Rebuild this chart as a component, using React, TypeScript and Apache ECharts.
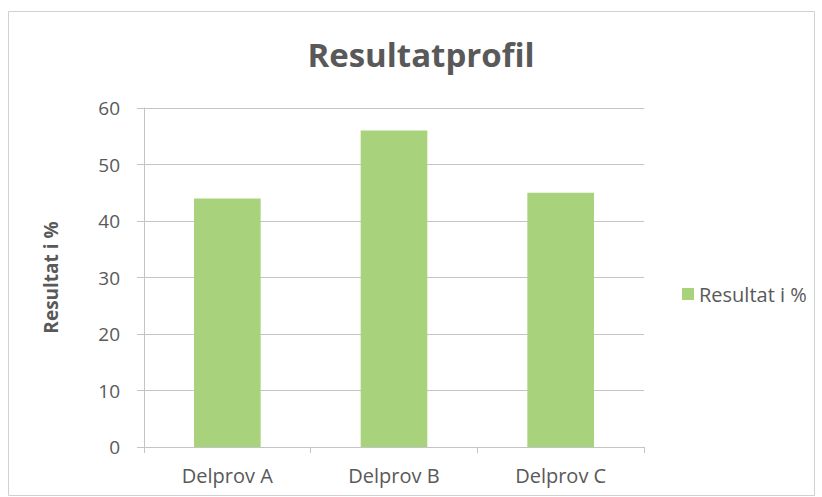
import React, { useEffect, useRef } from "react";
import * as echarts from "echarts";

const categories = ["Delprov A", "Delprov B", "Delprov C"];
const seriesName = "Resultat i %";
const values = [44, 56, 45];
const yTicks = { min: 0, max: 60, interval: 10 };

export default function App() {
  const ref = useRef<HTMLDivElement>(null);
  useEffect(() => {
    if (!ref.current) return;
    const chart = echarts.init(ref.current, null, { renderer: "svg" });
    const font = "'Open Sans', sans-serif";
    const textColor = "#595959";
    const lineColor = "#c4c4c4";
    chart.setOption({
      animation: false,
      backgroundColor: "#ffffff",
      textStyle: { fontFamily: font },
      title: {
        text: "Resultatprofil",
        left: 416,
        top: 33,
        textAlign: "center",
        textStyle: { fontFamily: font, fontSize: 33, fontWeight: "bold", color: textColor },
      },
      graphic: [
        {
          type: "rect",
          shape: { x: 8.5, y: 11.5, width: 806, height: 484 },
          style: { fill: "none", stroke: "#d0d0d0", lineWidth: 1 },
          silent: true,
        },
      ],
      legend: {
        orient: "vertical",
        left: 677,
        top: 279,
        icon: "rect",
        itemWidth: 12,
        itemHeight: 12,
        itemGap: 8,
        textStyle: { fontFamily: font, fontSize: 20, color: textColor },
        data: [seriesName],
      },
      grid: { left: 144, right: 178, top: 108, bottom: 50, containLabel: false },
      xAxis: {
        type: "category",
        data: categories,
        axisLine: { show: true, lineStyle: { color: lineColor, width: 1 } },
        axisTick: { show: true, alignWithLabel: false, length: 6, lineStyle: { color: lineColor } },
        axisLabel: { fontFamily: font, fontSize: 20, color: textColor, margin: 18 },
        splitLine: { show: false },
      },
      yAxis: {
        type: "value",
        min: yTicks.min,
        max: yTicks.max,
        interval: yTicks.interval,
        name: seriesName,
        nameLocation: "middle",
        nameGap: 84,
        nameRotate: 90,
        nameTextStyle: { fontFamily: font, fontSize: 19, fontWeight: "bold", color: textColor },
        axisLine: { show: true, lineStyle: { color: lineColor, width: 1 } },
        axisTick: { show: true, length: 7, lineStyle: { color: lineColor } },
        axisLabel: { fontFamily: font, fontSize: 19, color: textColor, margin: 24 },
        splitLine: { show: true, lineStyle: { color: lineColor, width: 1 } },
      },
      series: [
        {
          name: seriesName,
          type: "bar",
          data: values,
          barWidth: "40%",
          itemStyle: { color: "#a8d37c" },
        },
      ],
    });
    return () => chart.dispose();
  }, []);
  return (
    <div
      ref={ref}
      style={{ position: "fixed", left: 0, top: 0, width: 822, height: 497 }}
    />
  );
}
